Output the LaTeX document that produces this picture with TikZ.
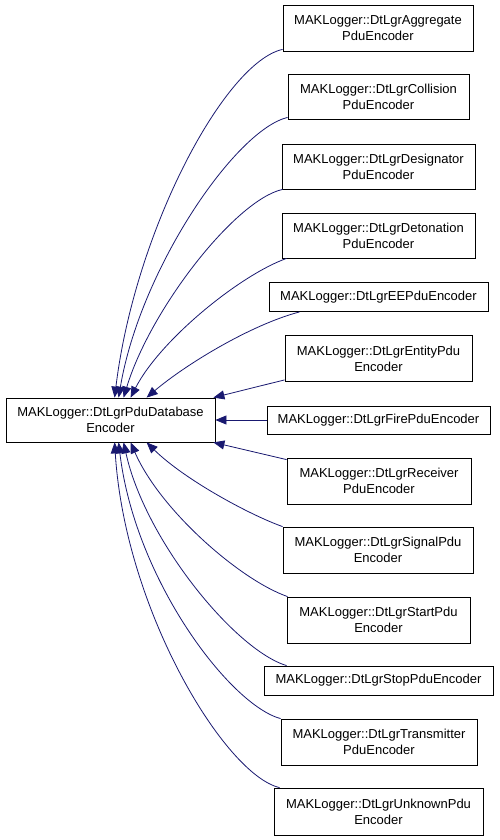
\documentclass[tikz,border=0pt]{standalone}
\usepackage{fontspec}
\setmainfont{Liberation Sans}
\usetikzlibrary{arrows.meta}
\definecolor{edgeblue}{HTML}{191970}
\tikzset{
  cls/.style={draw=black, line width=0.8pt, fill=white, inner sep=0pt, align=center,
    font=\fontsize{13}{16}\selectfont},
  inh/.style={draw=edgeblue, line width=0.8pt, {Triangle[length=11pt,width=9pt]}-}
}
\begin{document}
\begin{tikzpicture}[x=1pt,y=-1pt]
\useasboundingbox (0,0) rectangle (499,840);
\node[cls, minimum width=209pt, minimum height=44pt] (base) at (110.5,420) {MAKLogger::DtLgrPduDatabase\\Encoder};
\node[cls, minimum width=190pt, minimum height=46pt] (agg) at (378,28) {MAKLogger::DtLgrAggregate\\PduEncoder};
\node[cls, minimum width=181pt, minimum height=45pt] (col) at (378.5,96.5) {MAKLogger::DtLgrCollision\\PduEncoder};
\node[cls, minimum width=193pt, minimum height=45pt] (des) at (378.5,166.5) {MAKLogger::DtLgrDesignator\\PduEncoder};
\node[cls, minimum width=193pt, minimum height=45pt] (det) at (378.5,235.5) {MAKLogger::DtLgrDetonation\\PduEncoder};
\node[cls, minimum width=219pt, minimum height=29pt] (ee) at (378.5,297) {MAKLogger::DtLgrEEPduEncoder};
\node[cls, minimum width=187pt, minimum height=46pt] (ent) at (378.5,358.5) {MAKLogger::DtLgrEntityPdu\\Encoder};
\node[cls, minimum width=223pt, minimum height=28pt] (fire) at (378.5,420) {MAKLogger::DtLgrFirePduEncoder};
\node[cls, minimum width=184pt, minimum height=46pt] (rec) at (379,481) {MAKLogger::DtLgrReceiver\\PduEncoder};
\node[cls, minimum width=190pt, minimum height=46pt] (sig) at (378,550) {MAKLogger::DtLgrSignalPdu\\Encoder};
\node[cls, minimum width=183pt, minimum height=46pt] (sta) at (378.5,620) {MAKLogger::DtLgrStartPdu\\Encoder};
\node[cls, minimum width=229pt, minimum height=29pt] (stp) at (378.5,680.5) {MAKLogger::DtLgrStopPduEncoder};
\node[cls, minimum width=196pt, minimum height=46pt] (tra) at (379,742) {MAKLogger::DtLgrTransmitter\\PduEncoder};
\node[cls, minimum width=209pt, minimum height=47pt] (unk) at (378.5,811.5) {MAKLogger::DtLgrUnknownPdu\\Encoder};

\draw[inh] ([xshift=109pt]base.north west) .. controls (135,230) and (225,62) .. ([yshift=2pt]agg.south west);
\draw[inh] ([xshift=113pt]base.north west) .. controls (140,270) and (235,130) .. ([yshift=2pt]col.south west);
\draw[inh] ([xshift=118pt]base.north west) .. controls (150,310) and (235,200) .. ([xshift=1pt]des.south west);
\draw[inh] ([xshift=125pt]base.north west) .. controls (160,340) and (240,275) .. ([xshift=5pt]det.south west);
\draw[inh] ([xshift=141pt]base.north west) .. controls (185,365) and (250,325) .. ([xshift=31pt]ee.south west);
\draw[inh] ([xshift=-2pt]base.north east) -- ([yshift=2pt]ent.south west);
\draw[inh] (base.east) -- (fire.west);
\draw[inh] ([xshift=-2pt]base.south east) -- ([yshift=-2pt]rec.north west);
\draw[inh] ([xshift=141pt]base.south west) .. controls (185,480) and (250,515) .. (sig.north west);
\draw[inh] ([xshift=125pt]base.south west) .. controls (160,510) and (240,580) .. ([xshift=1pt]sta.north west);
\draw[inh] ([xshift=118pt]base.south west) .. controls (145,540) and (235,650) .. ([xshift=23pt]stp.north west);
\draw[inh] ([xshift=113pt]base.south west) .. controls (135,580) and (230,705) .. (tra.north west);
\draw[inh] ([xshift=109pt]base.south west) .. controls (125,610) and (225,775) .. ([xshift=6pt]unk.north west);
\end{tikzpicture}
\end{document}
